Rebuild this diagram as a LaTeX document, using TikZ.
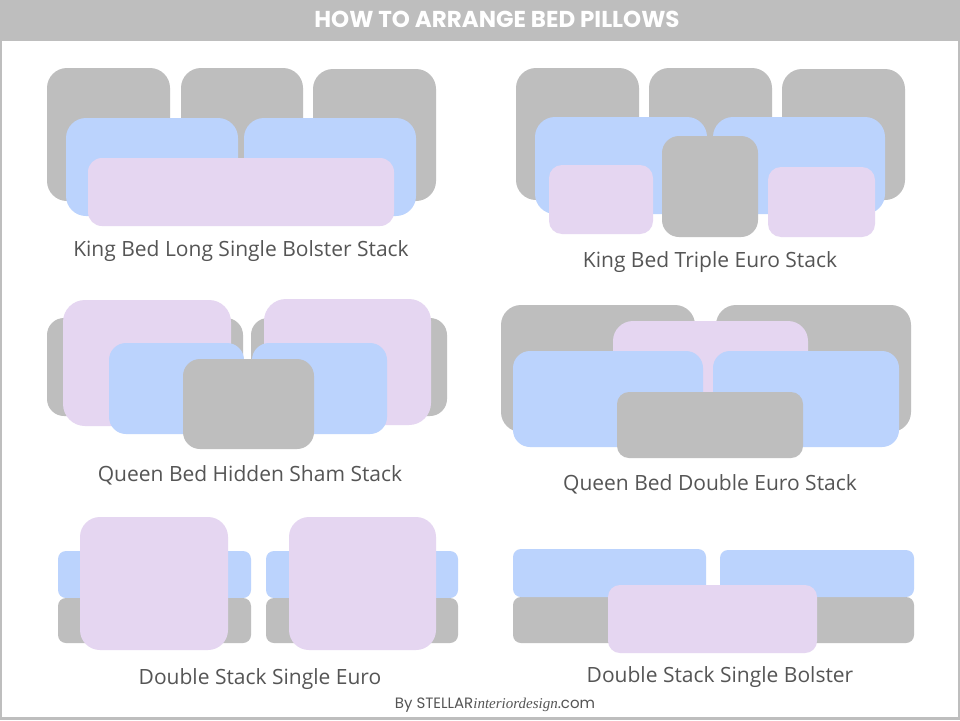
\documentclass[tikz,border=0pt]{standalone}
\usepackage{fontspec}
\setmainfont{Open Sans}
\newfontfamily\titlefont{Poppins}
\newfontfamily\footfont{Poppins}
\newfontfamily\stellarscript{Liberation Serif}
\definecolor{pgray}{HTML}{BEBEBE}
\definecolor{pblue}{HTML}{BBD3FD}
\definecolor{plilac}{HTML}{E5D6F1}
\definecolor{captxt}{HTML}{555555}
\newcommand{\pil}[6]{\path[fill=#1,rounded corners=#6] (#2,#3) rectangle (#4,#5);}
\begin{document}
\begin{tikzpicture}[x=1pt,y=-1pt,
  caption/.style={text=captxt,font=\fontsize{21}{24}\selectfont,inner sep=0pt,anchor=base},
  titletext/.style={text=white,font=\titlefont\fontsize{23}{26}\selectfont\bfseries,inner sep=0pt}]
\useasboundingbox (0,0) rectangle (960,720);
% frame
\fill[pgray] (0,0) rectangle (960,720);
\fill[white] (2,41) rectangle (958,717);
\node[titletext] (title) at (497,19) {HOW TO ARRANGE BED PILLOWS};
% --- King Bed Long Single Bolster Stack
\pil{pgray}{47}{68}{170}{201}{20}
\pil{pgray}{181}{68}{303}{201}{20}
\pil{pgray}{313}{69}{436}{201}{20}
\pil{pblue}{66}{118}{238}{216}{20}
\pil{pblue}{244}{118}{416}{216}{20}
\pil{plilac}{88}{158}{394}{226}{14}
\node[caption] (c1) at (241,256) {King Bed Long Single Bolster Stack};
% --- King Bed Triple Euro Stack
\pil{pgray}{516}{68}{639}{200}{20}
\pil{pgray}{649}{68}{772}{200}{20}
\pil{pgray}{782}{69}{905}{200}{20}
\pil{pblue}{535}{117}{707}{214}{20}
\pil{pblue}{713}{117}{885}{214}{20}
\pil{pgray}{662}{136}{758}{237}{17}
\pil{plilac}{549}{165}{653}{234}{13}
\pil{plilac}{768}{167}{875}{237}{13}
\node[caption] (c2) at (710,267) {King Bed Triple Euro Stack};
% --- Queen Bed Hidden Sham Stack
\pil{pgray}{47}{318}{243}{416}{17}
\pil{pgray}{251}{318}{447}{416}{17}
\pil{plilac}{63}{300}{231}{426}{22}
\pil{plilac}{264}{299}{431}{425}{22}
\pil{pblue}{109}{343}{244}{434}{17}
\pil{pblue}{252}{343}{387}{434}{17}
\pil{pgray}{183}{359}{314}{449}{17}
\node[caption] (c3) at (250,481) {Queen Bed Hidden Sham Stack};
% --- Queen Bed Double Euro Stack
\pil{pgray}{501}{305}{695}{432}{20}
\pil{pgray}{716}{305}{911}{432}{20}
\pil{plilac}{613}{321}{808}{420}{20}
\pil{pblue}{513}{351}{703}{447}{17}
\pil{pblue}{713}{351}{899}{447}{17}
\pil{pgray}{617}{392}{803}{458}{12}
\node[caption] (c4) at (710,490) {Queen Bed Double Euro Stack};
% --- Double Stack Single Euro
\pil{pblue}{58}{551}{251}{598}{8}
\pil{pgray}{58}{598}{251}{643}{8}
\pil{plilac}{80}{517}{228}{650}{20}
\pil{pblue}{266}{551}{458}{598}{8}
\pil{pgray}{266}{598}{458}{643}{8}
\pil{plilac}{289}{517}{436}{650}{20}
\node[caption] (c5) at (260,684) {Double Stack Single Euro};
% --- Double Stack Single Bolster
\pil{pgray}{513}{597}{914}{643}{8}
\pil{pblue}{513}{549}{706}{597}{8}
\pil{pblue}{720}{550}{914}{597}{8}
\pil{plilac}{608}{585}{817}{653}{12}
\node[caption] (c6) at (720,682) {Double Stack Single Bolster};
% footer
\node[inner sep=0pt,anchor=base,text=captxt,font=\footfont\fontsize{15}{17}\selectfont] (foot) at (495,708) {By STELLAR{\stellarscript\itshape interiordesign}.com};
\end{tikzpicture}
\end{document}
